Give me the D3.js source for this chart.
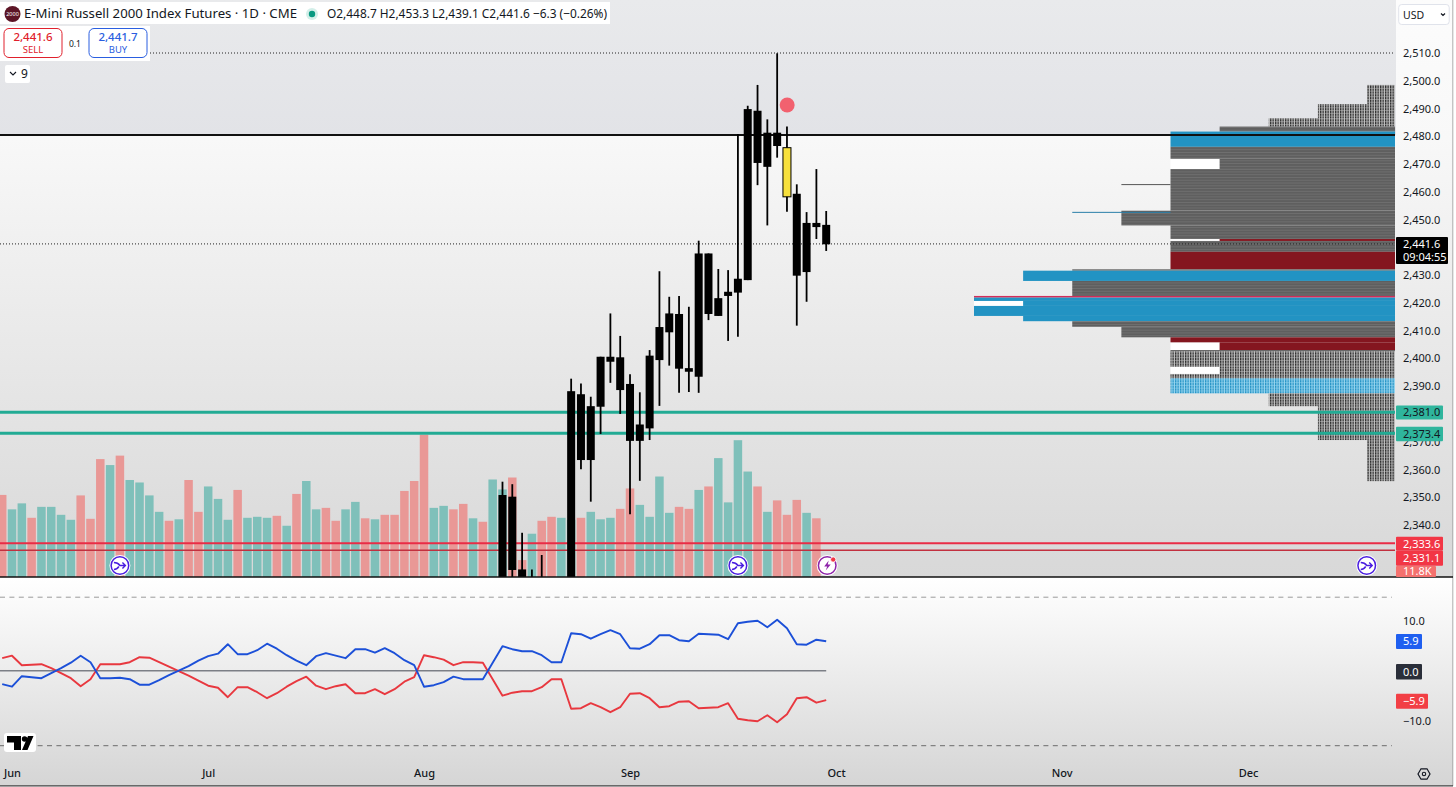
<!DOCTYPE html>
<html><head><meta charset="utf-8">
<script src="https://cdn.jsdelivr.net/npm/d3@7"></script>
<style>
html,body{margin:0;padding:0;background:#fff;overflow:hidden}
svg{display:block}
text{font-family:"Noto Sans",sans-serif;fill:#131722}
</style></head><body><div id="chart"></div>
<script>
// ---------- data ----------
const volumes=[16.5,13.6,14.8,11.9,14.1,14.1,12.5,11.5,16.4,11.7,23.7,22.5,24.4,19.5,19.0,16.4,13.1,11.3,11.6,19.5,13.1,18.2,15.7,11.5,17.5,11.9,12.1,11.9,12.3,10.3,16.7,19.3,13.6,13.9,11.3,13.6,15.1,11.8,11.6,12.5,12.5,17.3,19.3,28.6,13.9,14.3,13.6,14.7,11.8,11.1,19.6,17.6,20.0,3.4,8.7,11.3,12.1,11.9,11.5,11.9,13.1,11.6,11.9,13.7,17.8,14.5,12.1,20.2,12.9,14.1,13.7,17.5,18.2,23.9,15.0,27.5,21.2,18.2,13.1,15.4,12.5,15.5,12.9,11.8];
const volumeDirs="rggrggggrr"+"rgrggggrgr"+"rgggrgggrg"+"rggrrggrgr"+"rrrrggrrgr"+"ggrrgrrggr"+"gggrrggggr"+"rgrggggrgr"+"rrgr";
const candleStart=51;
const candleHigh=[2355.6,2354.7,2337.2,2324,2329.2,2320,2319,2392.7,2391,2386.2,2400.6,2416.2,2408.1,2394.3,2387.8,2403,2431.4,2422.2,2422.5,2418.6,2442.4,2437.8,2432.2,2431.8,2480.8,2491,2498.5,2486.1,2509.9,2483.5,2462.7,2452.7,2468.2,2453.1];
const candleTop=[2350.8,2350.2,2324,2318,2319,2316,2315,2388.2,2387.1,2382.8,2400.6,2400.6,2400.4,2390.8,2376.2,2401,2411.3,2416.2,2416,2396.5,2437.8,2437.8,2421.7,2424,2428.7,2489.8,2489.2,2481.3,2481.3,2475.9,2459.3,2448.8,2448.8,2448.1];
const candleBottom=[2310,2323.8,2318,2312,2310,2306,2304,2316,2363.4,2363.4,2382.6,2398.8,2388.6,2370.3,2370.3,2374.8,2399.4,2409.4,2396.3,2395.2,2393.4,2416,2415.3,2422.5,2423.7,2428.2,2470.4,2469,2476.5,2458.2,2429.8,2431.1,2447.3,2441.1];
const candleLow=[2305,2318,2312,2308,2305,2300,2298,2312,2360.1,2348.4,2372.8,2391.2,2380,2343.9,2355.9,2370.6,2382.9,2397.4,2387.6,2387.9,2387.6,2413.8,2415.3,2406.3,2407.8,2428.2,2462.4,2447.9,2472.3,2452.8,2411.8,2420.4,2443,2438.7];
const highlightedCandle=80;
const diPlus=[-2.7,-3.2,-1.1,-1.3,-1.5,-0.5,0.5,1.6,3.0,1.7,-1.5,-1.5,-1.4,-1.7,-2.8,-2.8,-1.9,-0.9,0,0.9,2.0,2.9,3.4,5.3,3.3,3.3,4.1,5.4,4.4,3.1,2.0,1.1,2.9,3.5,3.0,2.5,4.3,4.3,3.6,4.5,3.5,2.1,1.1,-3.2,-2.9,-2.3,-1.2,-1.7,-1.7,-1.7,1.6,4.9,4.3,3.9,3.9,3.1,1.7,1.7,7.5,7.3,6.4,7.3,8.1,7.3,4.5,4.4,5.3,7.1,7.1,6.1,5.9,7.4,7.3,7.2,6.3,9.5,9.8,10.0,8.7,10.2,8.5,5.3,5.2,6.2,5.9];
const diMinus=[2.5,3.0,1.1,1.2,1.3,0.5,-0.5,-1.5,-3.1,-1.7,1.3,1.3,1.3,1.7,2.7,2.6,1.7,0.8,-0.1,-1,-2,-3,-3.4,-5.3,-3.3,-3.3,-4.3,-5.5,-4.5,-3.2,-2.1,-1.2,-3,-3.7,-3.1,-2.7,-4.5,-4.5,-3.7,-4.7,-3.7,-2.2,-1.3,3.1,2.7,2.2,1.1,1.7,1.7,1.6,-1.7,-5,-4.4,-4.1,-4.1,-3.3,-1.7,-1.7,-7.6,-7.5,-6.5,-7.3,-8.3,-7.3,-4.6,-4.5,-5.5,-7.3,-7.1,-6.2,-6.1,-7.5,-7.4,-7.3,-6.5,-9.6,-9.9,-10.1,-8.9,-10.3,-8.7,-5.5,-5.3,-6.4,-5.9];
const profileHigh=[2498.5,2491.6,2486.5,2483.5,2481.7,2476.2,2471.9,2468.2,2453.2,2447.9,2443,2442.3,2438.4,2432.1,2431.6,2427.9,2422.5,2421.9,2420.7,2418.9,2415.3,2413.4,2411.4,2407.6,2405.8,2403,2402.5,2397,2394.4,2392.8,2387.4,2382.8,2370.6];
const profileLow=[2491.6,2486.5,2483.5,2481.7,2476.2,2471.9,2468.2,2453.2,2447.9,2443,2442.3,2438.4,2432.1,2431.6,2427.9,2422.5,2421.9,2420.7,2418.9,2415.3,2413.4,2411.4,2407.6,2405.8,2403,2402.5,2397,2394.4,2392.8,2387.4,2382.8,2370.6,2355.8];
const profileCount=[1,2,3,4,5,5,4,5,6,5,4,5,5,7,8,7,9,9,8,9,8,7,6,5,4,5,5,4,5,5,3,2,1];
const profileKind=["h","h","h","g","b","g","g","g","g","g","r","g","r","g","b","g","c","b","b","b","b","g","g","r","r","g","h","h","h","l","h","h","h"];
const notchHigh=[2471.9,2443,2397,2420.7,2405.8];
const notchLow=[2468.2,2442.3,2394.4,2418.9,2403];
const notchOuter=[5,5,5,9,5];
const notchInner=[4,4,4,8,4];
const thinPrices=[2462.6,2452.6];
const thinCounts=[6,7];
const thinKinds=["g","b"];
const priceTicks=[2510,2500,2490,2480,2470,2460,2450,2430,2420,2410,2400,2390,2370,2360,2350,2340];
const diTicks=[10,-10];
const monthNames=["Jun","Jul","Aug","Sep","Oct","Nov","Dec"];
const monthIndex=[1,21,43,64,85,108,127];
const supportLevels=[2381.0,2373.4];
const resistLevels=[2333.6,2331.1];
const horizontalLevel=2480.5;
const sessionHigh=2510;
const lastPrice=2441.6;
const lastVolume="11.8K";
const flagIndex=[12,75,139];
const titleText="E-Mini Russell 2000 Index Futures · 1D · CME";
const ohlcText="O2,448.7 H2,453.3 L2,439.1 C2,441.6 −6.3 (−0.26%)";

// ---------- scales ----------
const W=1456,H=787,paneR=1396,paneB=577;
const x=d3.scaleLinear().domain([0,84]).range([2.2,826.2]);
const y=d3.scaleLinear().domain([2510,2340]).range([53,525]);
const vol=d3.scaleLinear().domain([0,11.8]).range([paneB,518.3]);
const di=d3.scaleLinear().domain([-10,10]).range([720.7,620.7]);
const prof=d3.scaleLinear().domain([1,9]).range([1367,974]);
const fmt=d3.format(",.1f");
const barW=8.5, bodyW=8;

const svg=d3.select("#chart").append("svg").attr("width",W).attr("height",H);
const defs=svg.append("defs");
function grad(id,y1,y2,stops){
  const g=defs.append("linearGradient").attr("id",id).attr("gradientUnits","userSpaceOnUse")
    .attr("x1",0).attr("x2",0).attr("y1",y1).attr("y2",y2);
  stops.forEach(s=>g.append("stop").attr("offset",s[0]).attr("stop-color",s[1]));
}
grad("mainBg",0,577,[[0,"#fcfcfc"],[0.24,"#f8f8f8"],[0.52,"#ececec"],[1,"#d8d8d8"]]);
grad("subBg",578,786,[[0,"#ffffff"],[1,"#d5d5d5"]]);
grad("zoneBg",0,135,[[0,"#e9eaec"],[1,"#e2e3e7"]]);
defs.append("clipPath").attr("id","paneClip").append("rect").attr("width",paneR).attr("height",paneB);

// stripes for the grey profile rows, dots for the thin-volume rows
const ps=defs.append("pattern").attr("id","stripes").attr("patternUnits","userSpaceOnUse").attr("width",6).attr("height",2.776).attr("y",y(2510));
ps.append("rect").attr("width",6).attr("height",2.776).attr("fill","#5f5f5f");
ps.append("rect").attr("width",6).attr("y",2).attr("height",0.7).attr("fill","#747474");
const ph=defs.append("pattern").attr("id","hatch").attr("patternUnits","userSpaceOnUse").attr("width",2.5).attr("height",2.776);
ph.append("rect").attr("width",2.5).attr("height",2.776).attr("fill","#c4c4c4");
ph.append("rect").attr("width",1.35).attr("height",2.3).attr("fill","#2c2c2c");
const pl=defs.append("pattern").attr("id","hatchBlue").attr("patternUnits","userSpaceOnUse").attr("width",2.5).attr("height",2.776);
pl.append("rect").attr("width",2.5).attr("height",2.776).attr("fill","#9ad6ef");
pl.append("rect").attr("width",1.35).attr("height",2.3).attr("fill","#2393c6");

// ---------- backgrounds ----------
svg.append("rect").attr("width",W).attr("height",paneB).attr("fill","url(#mainBg)");
svg.append("rect").attr("y",578).attr("width",W).attr("height",208).attr("fill","url(#subBg)");
svg.append("rect").attr("width",paneR).attr("height",y(horizontalLevel)).attr("fill","url(#zoneBg)");
svg.append("rect").attr("x",1453).attr("width",3).attr("height",H).attr("fill","#fff");
svg.append("line").attr("x1",1452.8).attr("x2",1452.8).attr("y1",0).attr("y2",786).attr("stroke","#9a9a9a").attr("stroke-width",0.8);

// ---------- volume ----------
const main=svg.append("g").attr("clip-path","url(#paneClip)");
main.append("g").selectAll("rect").data(volumes).join("rect")
  .attr("x",(d,i)=>x(i)-barW/2).attr("width",barW)
  .attr("y",d=>vol(d)).attr("height",d=>paneB-vol(d))
  .attr("fill",(d,i)=>volumeDirs[i]==="r"?"#e99896":"#7fc0ba");

// ---------- volume profile ----------
const kindFill={h:"url(#hatch)",g:"url(#stripes)",b:"#2293c3",r:"#84161f",l:"url(#hatchBlue)",c:"#d42c58"};
main.append("g").selectAll("rect").data(notchHigh).join("rect")
  .attr("x",(d,i)=>prof(notchOuter[i])).attr("width",(d,i)=>prof(notchInner[i])-prof(notchOuter[i]))
  .attr("y",d=>y(d)).attr("height",(d,i)=>y(notchLow[i])-y(d)).attr("fill","#ffffff");
main.append("g").selectAll("rect").data(profileHigh).join("rect")
  .attr("x",(d,i)=>prof(profileCount[i])).attr("width",(d,i)=>1395-prof(profileCount[i]))
  .attr("y",d=>y(d)).attr("height",(d,i)=>y(profileLow[i])-y(d))
  .attr("fill",(d,i)=>kindFill[profileKind[i]]);
main.append("g").selectAll("line").data(thinPrices).join("line")
  .attr("x1",(d,i)=>prof(thinCounts[i])).attr("x2",prof(5))
  .attr("y1",d=>y(d)).attr("y2",d=>y(d)).attr("stroke-width",1)
  .attr("stroke",(d,i)=>thinKinds[i]==="b"?"#2a7fa8":"#555");

// ---------- level lines ----------
const lineG=main.append("g");
lineG.selectAll(".sup").data(supportLevels).join("line").attr("class","sup")
  .attr("x1",0).attr("x2",1395).attr("y1",d=>y(d)+1).attr("y2",d=>y(d)+1)
  .attr("stroke","#22ab94").attr("stroke-width",3);
lineG.selectAll(".res").data(resistLevels).join("line").attr("class","res")
  .attr("x1",0).attr("x2",1395).attr("y1",d=>y(d)+0.5).attr("y2",d=>y(d)+0.5)
  .attr("stroke",(d,i)=>i?"#c2303f":"#e92c46").attr("stroke-width",(d,i)=>i?1.6:2);
lineG.append("line").attr("x1",0).attr("x2",1395).attr("y1",y(horizontalLevel)).attr("y2",y(horizontalLevel)).attr("stroke","#111").attr("stroke-width",2);
lineG.append("line").attr("x1",150).attr("x2",1395).attr("y1",y(sessionHigh)).attr("y2",y(sessionHigh)).attr("stroke","#222").attr("stroke-dasharray","1 2").attr("stroke-width",1);
lineG.append("line").attr("x1",0).attr("x2",1395).attr("y1",y(lastPrice)+1).attr("y2",y(lastPrice)+1).attr("stroke","#222").attr("stroke-dasharray","1 2").attr("stroke-width",1);

// ---------- candles ----------
const candleG=main.append("g");
const cIdx=candleHigh.map((d,i)=>i+candleStart);
candleG.selectAll("line").data(cIdx).join("line")
  .attr("x1",d=>x(d)).attr("x2",d=>x(d))
  .attr("y1",d=>y(candleHigh[d-candleStart])).attr("y2",d=>y(candleLow[d-candleStart]))
  .attr("stroke","#000").attr("stroke-width",1.8);
candleG.selectAll("rect").data(cIdx).join("rect")
  .attr("x",d=>x(d)-bodyW/2).attr("width",bodyW)
  .attr("y",d=>y(candleTop[d-candleStart]))
  .attr("height",d=>Math.max(1,y(candleBottom[d-candleStart])-y(candleTop[d-candleStart])))
  .attr("fill",d=>d===highlightedCandle?"#f7e03c":"#000")
  .attr("stroke",d=>d===highlightedCandle?"#000":"none").attr("stroke-width",1);
svg.append("circle").attr("cx",x(80)+0.2).attr("cy",105).attr("r",7.5).attr("fill","#f2616f");

// pane frame
svg.append("line").attr("x1",0).attr("x2",1453).attr("y1",577).attr("y2",577).attr("stroke","#111").attr("stroke-width",1.5);
svg.append("line").attr("x1",0).attr("x2",1453).attr("y1",785.8).attr("y2",785.8).attr("stroke","#444").attr("stroke-width",1.2);

// ---------- flags ----------
function flag(cx,cy,light){
  const g=svg.append("g").attr("transform",`translate(${cx},${cy})`);
  g.append("circle").attr("r",10.5).attr("fill","#fff");
  g.append("circle").attr("r",8.8).attr("fill","#fff").attr("stroke",light?"#8e24aa":"#4a1de0").attr("stroke-width",1.5);
  if(light){
    g.append("path").attr("d","M1.5,-5 L-3,1 L0,1 L-1.5,5 L3.5,-1 L0.5,-1 Z").attr("fill","#8e24aa");
    g.append("circle").attr("cx",6).attr("cy",-6).attr("r",2.6).attr("fill","#f23645").attr("stroke","#fff").attr("stroke-width",0.8);
  }else{
    g.append("path").attr("d","M-6,-3 Q-2,-3 0,0 L5.5,0 M2.5,-3 L5.5,0 L2.5,3 M-6,4 Q-3,4 -1,1").attr("fill","none").attr("stroke","#4a1de0").attr("stroke-width",1.4);
  }
}
flagIndex.forEach(i=>flag(x(i)+(i===139?1:0),565.5,false));
flag(x(84)+1,565.5,true);

// ---------- indicator ----------
[[14.7,"#9a9a9a"],[-15,"#6c6c6c"]].forEach(b=>{
  svg.append("line").attr("x1",0).attr("x2",1392).attr("y1",di(b[0])).attr("y2",di(b[0]))
    .attr("stroke",b[1]).attr("stroke-width",1).attr("stroke-dasharray","5 4.4");
});
svg.append("line").attr("x1",0).attr("x2",x(84)).attr("y1",di(0)).attr("y2",di(0)).attr("stroke","#7c7f86").attr("stroke-width",1.4);
const diLine=d3.line().x((d,i)=>x(i)).y(d=>di(d));
svg.append("path").attr("d",diLine(diMinus)).attr("fill","none").attr("stroke","#e8383f").attr("stroke-width",1.9).attr("stroke-linejoin","round");
svg.append("path").attr("d",diLine(diPlus)).attr("fill","none").attr("stroke","#1c50d8").attr("stroke-width",1.9).attr("stroke-linejoin","round");

// ---------- axes ----------
const priceAxis=svg.append("g").attr("transform",`translate(${paneR},0)`)
  .call(d3.axisRight(y).tickValues(priceTicks).tickSize(0).tickPadding(7).tickFormat(fmt));
const diAxis=svg.append("g").attr("transform",`translate(${paneR},0)`)
  .call(d3.axisRight(di).tickValues(diTicks).tickSize(0).tickPadding(7).tickFormat(fmt));
const timeAxis=svg.append("g").attr("transform","translate(0,769)")
  .call(d3.axisBottom(x).tickValues(monthIndex).tickSize(0).tickPadding(0).tickFormat((d,i)=>monthNames[i]));
[priceAxis,diAxis,timeAxis].forEach(a=>{
  a.select(".domain").remove();
  a.selectAll("text").style("font-family",'"Noto Sans",sans-serif').style("font-size","11px").style("fill","#131722");
});
timeAxis.selectAll("text").style("font-weight","500");

// ---------- value tags ----------
function tag(x0,y0,w,h,fill,lines,color){
  svg.append("rect").attr("x",x0).attr("y",y0).attr("width",w).attr("height",h).attr("fill",fill).attr("rx",1);
  lines.forEach((t,i)=>{
    svg.append("text").attr("x",x0+7).attr("y",y0+h/(lines.length)*(i+0.5)+3.8)
      .attr("font-size",11).style("fill",color).text(t);
  });
}
tag(1396,536.7,47,14,"#f23645",[fmt(resistLevels[0])],"#fff");
tag(1396,566,40,11,"#f4716e",[lastVolume],"#fff");
tag(1396,550.7,47,15,"#f23645",[fmt(resistLevels[1])],"#fff");
tag(1396,405.5,47,14,"#2fb59d",[fmt(supportLevels[0])],"#131722");
tag(1396,426.7,47,14.5,"#2fb59d",[fmt(supportLevels[1])],"#131722");
tag(1396,237,52,27,"#000",[fmt(lastPrice),"09:04:55"],"#fff");
tag(1396,634,26,15,"#1f5ff0",[fmt(diPlus[84])],"#fff");
tag(1396,664,26,15.5,"#2a2e39",[fmt(0)],"#fff");
tag(1396,693.7,32,15,"#f23f45",[d3.format(",.1f")(diMinus[84])],"#fff");

// ---------- header ----------
svg.append("rect").attr("x",0).attr("y",2).attr("width",610).attr("height",22).attr("fill","#fff");
svg.append("circle").attr("cx",12.5).attr("cy",14).attr("r",8).attr("fill","#5c1526");
svg.append("text").attr("x",12.5).attr("y",16).attr("text-anchor","middle").attr("font-size",5.5).style("fill","#fff").text("2000");
svg.append("text").attr("x",24).attr("y",18).attr("font-size",13).attr("textLength",273).attr("lengthAdjust","spacingAndGlyphs").text(titleText);
svg.append("circle").attr("cx",312).attr("cy",14).attr("r",6).attr("fill","#d3efe9");
svg.append("circle").attr("cx",312).attr("cy",14).attr("r",3.2).attr("fill","#089981");
svg.append("text").attr("x",327).attr("y",18).attr("font-size",12.5).attr("textLength",280).attr("lengthAdjust","spacingAndGlyphs").text(ohlcText);

svg.append("rect").attr("x",0).attr("y",26).attr("width",150).attr("height",35).attr("fill","#fff");
function tradeBox(x0,color,price,label){
  svg.append("rect").attr("x",x0).attr("y",28.5).attr("width",58).attr("height",29).attr("rx",5).attr("fill","#fff").attr("stroke",color).attr("stroke-width",1);
  svg.append("text").attr("x",x0+29).attr("y",41).attr("text-anchor","middle").attr("font-size",11.5).attr("font-weight",500).style("fill",color).text(price);
  svg.append("text").attr("x",x0+29).attr("y",53).attr("text-anchor","middle").attr("font-size",9.5).style("fill",color).text(label);
}
tradeBox(4,"#e0202c","2,441.6","SELL");
tradeBox(89,"#2a5ee0","2,441.7","BUY");
svg.append("text").attr("x",75).attr("y",47).attr("text-anchor","middle").attr("font-size",8.5).text("0.1");

svg.append("rect").attr("x",5).attr("y",65).attr("width",25).attr("height",18).attr("rx",2).attr("fill","#fff");
svg.append("path").attr("d","M10,72 L13,75 L16,72").attr("fill","none").attr("stroke","#131722").attr("stroke-width",1.1);
svg.append("text").attr("x",21).attr("y",78).attr("font-size",12).text("9");

// USD chip
svg.append("rect").attr("x",1398.7).attr("y",4.5).attr("width",50.5).attr("height",20).attr("rx",3).attr("fill","#fff").attr("stroke","#e0e3eb");
svg.append("text").attr("x",1403).attr("y",19).attr("font-size",10.5).text("USD");
svg.append("path").attr("d","M1441,13.5 L1443,15.5 L1445,13.5").attr("fill","none").attr("stroke","#131722").attr("stroke-width",1.2);

// TradingView mark
const tv=svg.append("g");
tv.append("rect").attr("x",4).attr("y",733).attr("width",32).attr("height",19).attr("fill","#fff").attr("rx",3);
tv.append("path").attr("d","M7,736 H21 V750 H14 V742.5 H7 Z M22,750 L28,736 H33.5 L27.5,750 Z").attr("fill","#000");
tv.append("circle").attr("cx",24.6).attr("cy",739).attr("r",2.8).attr("fill","#000");

// settings mark
svg.append("path").attr("d","M1418,774 L1421,768.8 H1427 L1430,774 L1427,779.2 H1421 Z").attr("fill","none").attr("stroke","#131722").attr("stroke-width",1.2);
svg.append("circle").attr("cx",1424).attr("cy",774).attr("r",1.7).attr("fill","none").attr("stroke","#131722").attr("stroke-width",1.1);
</script></body></html>
